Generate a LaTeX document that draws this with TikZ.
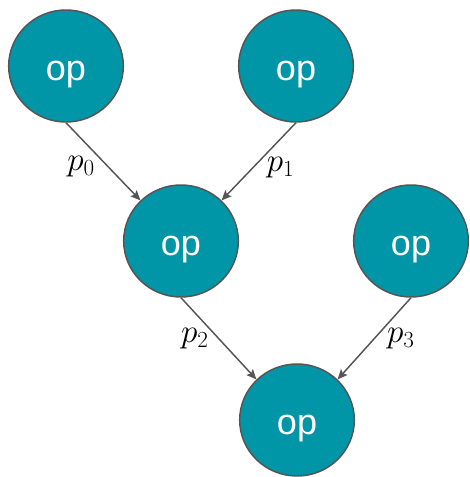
\documentclass[tikz,border=0pt]{standalone}
\usepackage{fontspec}
\setsansfont{Liberation Sans}
\usetikzlibrary{arrows.meta,shapes.geometric}
\definecolor{opteal}{RGB}{0,150,167}
\definecolor{opedge}{RGB}{85,85,85}

\begin{document}
\begin{tikzpicture}[x=0.75pt,y=0.75pt,
  opnode/.style={ellipse, fill=opteal, draw=opedge, line width=1.1pt,
    minimum width=86pt, minimum height=84pt, inner sep=0pt,
    text height=22pt, text depth=0pt,
    text=white, font=\sffamily\fontsize{27}{30}\selectfont},
  flow/.style={draw=opedge, line width=1.1pt,
    -{Stealth[length=7.5pt,width=6.5pt,inset=1.5pt]}},
  plabel/.style={inner sep=0pt, font=\fontsize{25}{28}\selectfont}]

\useasboundingbox (0,0) rectangle (469,-477);

% operators
\node[opnode] (tl) at (66,-66) {op};
\node[opnode] (tr) at (296,-66) {op};
\node[opnode] (ml) at (181,-241) {op};
\node[opnode] (mr) at (411,-241) {op};
\node[opnode] (bo) at (297,-420) {op};

% inputs
\draw[flow] (tl.south) -- node[plabel, pos=0.56, left=9pt] (l0) {$p_0$} (ml.135);
\draw[flow] (tr.south) -- node[plabel, pos=0.58, right=10pt] (l1) {$p_1$} (ml.45);
\draw[flow] (ml.south) -- node[plabel, pos=0.5, left=7pt] (l2) {$p_2$} (bo.135);
\draw[flow] (mr.south) -- node[plabel, pos=0.5, right=9pt] (l3) {$p_3$} (bo.45);
\end{tikzpicture}
\end{document}
